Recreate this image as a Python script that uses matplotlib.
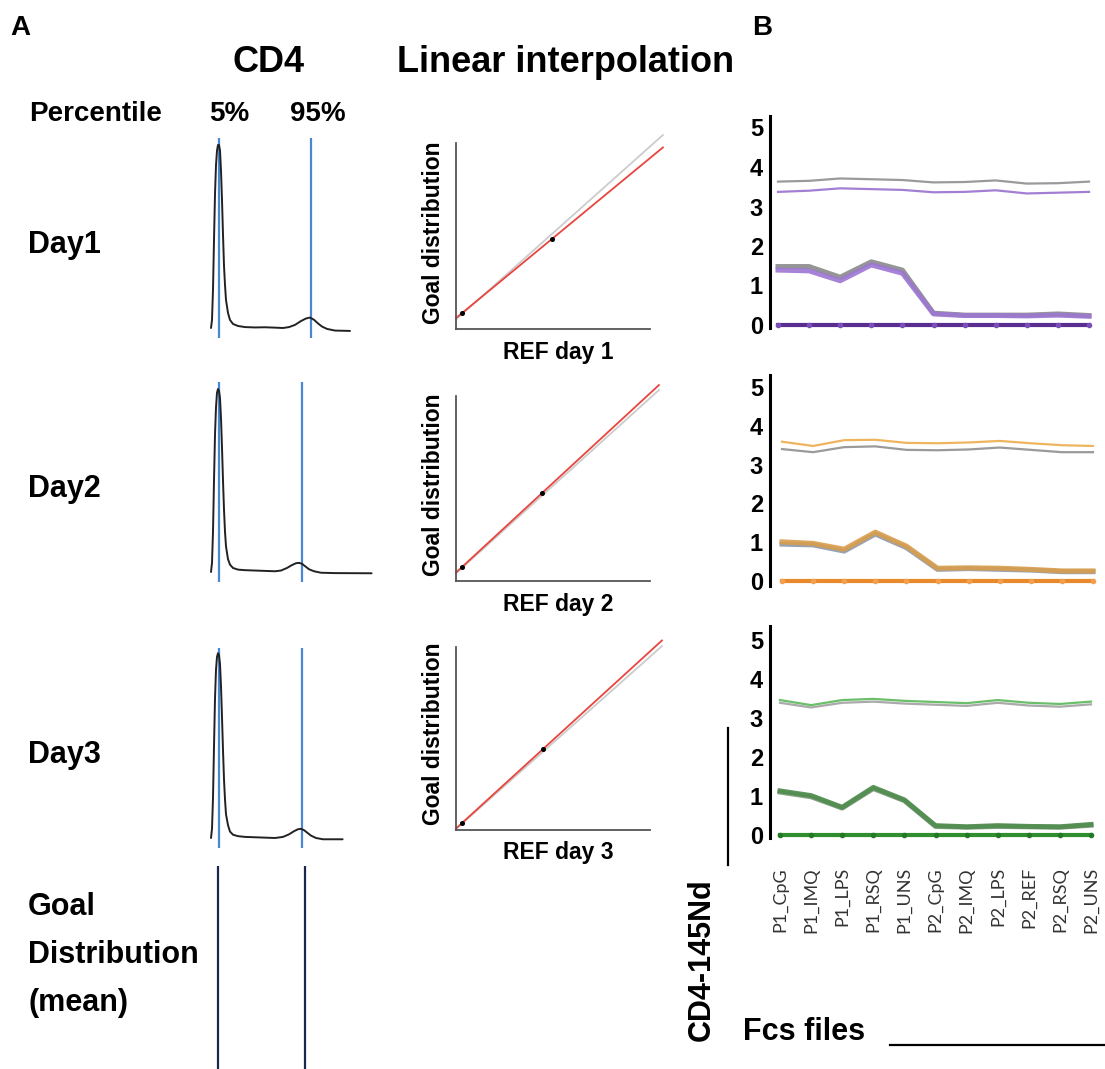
import matplotlib
matplotlib.use("Agg")
import matplotlib.pyplot as plt
from matplotlib.lines import Line2D
import numpy as np

plt.rcParams['font.family'] = ['Liberation Sans', 'DejaVu Sans']

# ---------------- data ----------------
days = ["Day1", "Day2", "Day3"]
ref_labels = ["REF day 1", "REF day 2", "REF day 3"]

# density curves (x: intensity units, y: normalised density)
dens1_x = [0.30, 0.35, 0.40, 0.45, 0.50, 0.55, 0.60, 0.65, 0.70, 0.75, 0.80, 0.85, 0.90, 0.95, 1.00,
           1.05, 1.15, 1.25, 1.40, 1.65, 2.0, 2.5, 3.0, 3.5, 3.9, 4.2, 4.5, 4.8, 5.05, 5.25, 5.45,
           5.65, 5.85, 6.1, 6.5, 7.25]
dens1_y = [0.00, 0.044, 0.21, 0.48, 0.73, 0.89, 0.97, 1.00, 1.00, 0.97, 0.86, 0.70, 0.51, 0.34, 0.235,
           0.153, 0.082, 0.044, 0.022, 0.011, 0.005, 0.003, 0.004, 0.002, 0.0, 0.005, 0.017, 0.038, 0.052,
           0.057, 0.045, 0.025, 0.008, -0.005, -0.014, -0.016]
dens2_x = [0.30, 0.35, 0.40, 0.45, 0.50, 0.55, 0.60, 0.65, 0.70, 0.75, 0.80, 0.85, 0.90, 0.95, 1.00,
           1.05, 1.15, 1.25, 1.40, 1.65, 2.0, 2.5, 3.0, 3.5, 3.8, 4.1, 4.35, 4.55, 4.7, 4.85, 5.0,
           5.2, 5.45, 5.8, 6.5, 8.33]
dens2_y = [0.00, 0.05, 0.22, 0.50, 0.75, 0.90, 0.98, 1.00, 0.99, 0.95, 0.84, 0.68, 0.50, 0.34, 0.22,
           0.14, 0.07, 0.04, 0.022, 0.013, 0.010, 0.008, 0.006, 0.004, 0.008, 0.022, 0.038, 0.048, 0.050,
           0.045, 0.032, 0.015, 0.004, -0.004, -0.006, -0.007]
dens3_x = [0.30, 0.35, 0.40, 0.45, 0.50, 0.55, 0.60, 0.65, 0.70, 0.75, 0.80, 0.85, 0.90, 0.95, 1.00,
           1.05, 1.15, 1.25, 1.40, 1.65, 2.0, 2.5, 3.0, 3.5, 3.9, 4.2, 4.45, 4.65, 4.8, 4.95, 5.1,
           5.3, 5.55, 5.9, 6.88]
dens3_y = [0.00, 0.05, 0.22, 0.50, 0.76, 0.92, 0.99, 1.01, 1.00, 0.95, 0.83, 0.66, 0.48, 0.32, 0.21,
           0.13, 0.07, 0.035, 0.018, 0.010, 0.006, 0.004, 0.002, 0.0, 0.006, 0.020, 0.037, 0.048, 0.050,
           0.043, 0.030, 0.013, 0.0, -0.007, -0.007]
pct5 = [0.70, 0.70, 0.70]
pct95 = [5.30, 4.85, 4.85]
goal_pct = [0.65, 5.00]

# linear interpolation panels: reference percentiles vs goal percentiles
ref_p = [[0.032, 0.505], [0.032, 0.453], [0.032, 0.458]]
goal_p = [[0.084, 0.474], [0.074, 0.463], [0.037, 0.426]]
line_end = [1.089, 1.068, 1.084]
grey_start = [0.05, 0.04, 0.005]
grey_end = [1.021, 1.005, 0.968]

# panel B
files = ["P1_CpG", "P1_IMQ", "P1_LPS", "P1_RSQ", "P1_UNS", "P2_CpG",
         "P2_IMQ", "P2_LPS", "P2_REF", "P2_RSQ", "P2_UNS"]
day1_grey_hi = [3.63, 3.65, 3.71, 3.69, 3.67, 3.61, 3.62, 3.66, 3.58, 3.59, 3.63]
day1_col_hi = [3.37, 3.40, 3.46, 3.44, 3.42, 3.36, 3.37, 3.41, 3.33, 3.35, 3.37]
day1_grey_lo = [1.48, 1.48, 1.21, 1.60, 1.39, 0.30, 0.25, 0.25, 0.25, 0.28, 0.24]
day1_col_lo = [1.39, 1.37, 1.12, 1.52, 1.31, 0.28, 0.24, 0.24, 0.23, 0.25, 0.22]
day2_col_hi = [3.59, 3.48, 3.63, 3.64, 3.56, 3.55, 3.57, 3.61, 3.55, 3.50, 3.48]
day2_grey_hi = [3.40, 3.32, 3.45, 3.47, 3.38, 3.37, 3.39, 3.44, 3.38, 3.32, 3.32]
day2_col_lo = [1.01, 0.97, 0.82, 1.26, 0.90, 0.33, 0.34, 0.33, 0.30, 0.26, 0.26]
day2_grey_lo = [0.95, 0.93, 0.77, 1.21, 0.86, 0.30, 0.32, 0.30, 0.28, 0.24, 0.24]
day3_col_hi = [3.46, 3.33, 3.46, 3.49, 3.44, 3.41, 3.38, 3.46, 3.39, 3.36, 3.42]
day3_grey_hi = [3.39, 3.27, 3.39, 3.42, 3.37, 3.34, 3.31, 3.39, 3.32, 3.29, 3.35]
day3_col_lo = [1.13, 1.01, 0.71, 1.22, 0.90, 0.24, 0.21, 0.24, 0.22, 0.21, 0.27]
day3_grey_lo = [1.10, 0.98, 0.69, 1.19, 0.88, 0.22, 0.20, 0.22, 0.21, 0.20, 0.25]
zero_line = [0, 0, 0, 0, 0, 0, 0, 0, 0, 0, 0]
yticks_B = [0, 1, 2, 3, 4, 5]

# ---------------- figure ----------------
W, H = 1105, 1069
fig = plt.figure(figsize=(W / 100, H / 100), dpi=100)


def px_axes(l, t, r, b):
    return fig.add_axes([l / W, 1 - b / H, (r - l) / W, (b - t) / H])


def ftext(x, y, s, **kw):
    fig.text(x / W, 1 - y / H, s, **kw)


def fline(xs, ys, **kw):
    fig.add_artist(Line2D([x / W for x in xs], [1 - y / H for y in ys], **kw))


bold = dict(fontweight='bold', color='black')

# headings
ftext(10, 28, "A", fontsize=20, ha='left', va='center', **bold)
ftext(752, 28, "B", fontsize=20, ha='left', va='center', **bold)
ftext(269, 62, "CD4", fontsize=26, ha='center', va='center', **bold)
ftext(566, 62, "Linear interpolation", fontsize=26, ha='center', va='center', **bold)
ftext(29, 114, "Percentile", fontsize=20, ha='left', va='center', **bold)
ftext(229, 114, "5%", fontsize=20, ha='center', va='center', **bold)
ftext(318, 114, "95%", fontsize=20, ha='center', va='center', **bold)

# density panels
dens = [(dens1_x, dens1_y), (dens2_x, dens2_y), (dens3_x, dens3_y)]
bases = [328, 572, 838]
for i in range(3):
    base = bases[i]
    ax = px_axes(205, base - 198, 375, base + 17)
    ax.set_xlim(0, 8.5)
    ax.set_ylim(-17 / 183, 198 / 183)
    ax.axis('off')
    ax.vlines([pct5[i], pct95[i]], -0.055, 1.04, color='#4a86d6', lw=1.6)
    ax.plot(dens[i][0], dens[i][1], color='#222222', lw=1.4,
            solid_joinstyle='round', solid_capstyle='round')
    ftext(28, base - 75, days[i], fontsize=22, ha='left', va='baseline', **bold)

# goal distribution
axg = px_axes(205, 866, 375, 1069)
axg.set_xlim(0, 8.5)
axg.set_ylim(0, 1)
axg.axis('off')
axg.vlines(goal_pct, 0, 1, color='#1c2750', lw=1.6)
for j, s in enumerate(["Goal", "Distribution", "(mean)"]):
    ftext(28, 907 + 48 * j, s, fontsize=22, ha='left', va='center', **bold)

# linear interpolation panels
ibottoms = [329, 581, 830]
spine_top = [0.979, 0.974, 0.963]
for i in range(3):
    b = ibottoms[i]
    ax = px_axes(456, b - 214, 670, b)
    ax.set_xlim(0, 214 / 190)
    ax.set_ylim(0, 214 / 190)
    ax.set_xticks([])
    ax.set_yticks([])
    for s in ['top', 'right']:
        ax.spines[s].set_visible(False)
    for s in ['left', 'bottom']:
        ax.spines[s].set_color('#555555')
        ax.spines[s].set_linewidth(1.3)
    ax.spines['left'].set_bounds(0, spine_top[i])
    ax.spines['bottom'].set_bounds(0, 1.02)
    ax.plot([0, line_end[i]], [grey_start[i], grey_end[i]], color='#cccccc', lw=1.3, clip_on=False)
    k, c = np.polyfit(ref_p[i], goal_p[i], 1)
    xx = np.array([0, line_end[i]])
    ax.plot(xx, k * xx + c, color='#e8453f', lw=1.3, clip_on=False)
    ax.plot(ref_p[i], goal_p[i], 'o', color='black', ms=2.6, clip_on=False)
    ftext(433, b - 96, "Goal distribution", fontsize=16.5, rotation=90, ha='center', va='center', **bold)
    ftext(558, b + 23, ref_labels[i], fontsize=16.5, ha='center', va='center', **bold)

# panel B
panels = [
    dict(t=116, b=328, y0=325, u=39.5, x0=778, hi=[(day1_grey_hi, '#9a9a9a'), (day1_col_hi, '#a27fd3')],
         lo=[(day1_grey_lo, '#8a8a8a'), (day1_col_lo, '#9c76d2')], zc='#5a2d91', zm='#7a50b8'),
    dict(t=375, b=586, y0=581, u=38.8, x0=782, hi=[(day2_col_hi, '#efb55e'), (day2_grey_hi, '#9a9a9a')],
         lo=[(day2_grey_lo, '#8e98a8'), (day2_col_lo, '#d99e4c')], zc='#e8892b', zm='#f2a050'),
    dict(t=626, b=838, y0=835, u=39.0, x0=780, hi=[(day3_grey_hi, '#aaaaaa'), (day3_col_hi, '#6cbf6a')],
         lo=[(day3_grey_lo, '#7f9a7f'), (day3_col_lo, '#4f8c4d')], zc='#2f8f2f', zm='#247a24'),
]
xs = np.arange(len(files))
for n, p in enumerate(panels):
    ax = px_axes(770, p['t'], 1100, p['b'])
    sp = 31.1
    ax.set_xlim(-(p['x0'] - 770) / sp, (1100 - p['x0']) / sp)
    ax.set_ylim(-(p['b'] - p['y0']) / p['u'], (p['y0'] - p['t']) / p['u'])
    for s in ['top', 'right', 'bottom']:
        ax.spines[s].set_visible(False)
    ax.spines['left'].set_linewidth(2.2)
    ax.spines['left'].set_color('black')
    for vals, col in p['hi']:
        ax.plot(xs, vals, color=col, lw=1.6)
    for vals, col in p['lo']:
        ax.plot(xs, vals, color=col, lw=3.6, alpha=0.9, solid_joinstyle='round')
    ax.plot(xs, zero_line, color=p['zc'], lw=3.0, marker='o', ms=3, mfc=p['zm'], mec=p['zm'], clip_on=False)
    ax.set_yticks(yticks_B)
    ax.set_yticklabels([str(v) for v in yticks_B], fontsize=17, fontweight='bold')
    ax.tick_params(axis='y', length=0, pad=5)
    ax.set_xticks(xs)
    if n == 2:
        ax.set_xticklabels(files, rotation=90, fontsize=13, color='#333333', family=['Lato', 'DejaVu Sans'])
        ax.tick_params(axis='x', length=0, pad=21)
    else:
        ax.set_xticklabels([])
        ax.tick_params(axis='x', length=0)

fline([728, 728], [728, 865], color='black', lw=1.6)
ftext(702, 960, "CD4-145Nd", fontsize=22, rotation=90, ha='center', va='center', **bold)
ftext(743, 1032, "Fcs files", fontsize=22, ha='left', va='center', **bold)
fline([890, 1105], [1045, 1045], color='black', lw=1.6)

fig.savefig("out.png", dpi=100)
